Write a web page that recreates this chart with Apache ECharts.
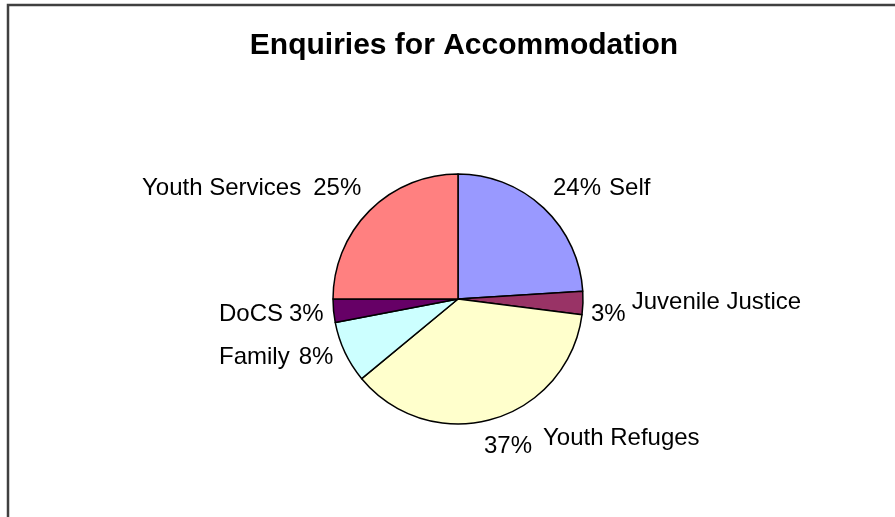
<!DOCTYPE html>
<html>
<head>
<meta charset="utf-8">
<script src="https://cdn.jsdelivr.net/npm/echarts@6/dist/echarts.min.js"></script>
<style>
  html, body { margin: 0; padding: 0; background: #fff; }
  #chart { width: 895px; height: 517px; }
</style>
</head>
<body>
<div id="chart"></div>
<script>
// Sources of accommodation enquiries (percent of total)
const categories = ['Self', 'Juvenile Justice', 'Youth Refuges', 'Family', 'DoCS', 'Youth Services'];
const percents = [24, 3, 37, 8, 3, 25];
const sliceColors = ['#9999FF', '#993366', '#FFFFCC', '#CCFFFF', '#660066', '#FF8080'];

// Label anchors: left edge x, vertical centre y, percent first or last, gap in px
const labelSpots = {
  'Self':             { x: 553, y: 188, pctFirst: true,  gap: 8 },
  'Juvenile Justice': { x: 591, y: 308, pctFirst: true,  gap: 6, shift: 'big' },
  'Youth Refuges':    { x: 484, y: 442, pctFirst: true,  gap: 11, shift: 'small' },
  'Family':           { x: 219, y: 357, pctFirst: false, gap: 9 },
  'DoCS':             { x: 219, y: 314, pctFirst: false, gap: 6 },
  'Youth Services':   { x: 142, y: 188, pctFirst: false, gap: 12 }
};

const font = 'Liberation Sans, Arial, sans-serif';
const FS = 24;
const chart = echarts.init(document.getElementById('chart'), null, { renderer: 'canvas' });

function tok(lh, va) {
  return { fontFamily: font, fontSize: FS, lineHeight: lh, verticalAlign: va, color: '#000' };
}

chart.setOption({
  backgroundColor: '#ffffff',
  animation: false,
  title: {
    text: 'Enquiries for Accommodation',
    left: 459,
    textAlign: 'center',
    top: 26,
    textStyle: { fontFamily: font, fontSize: 30, fontWeight: 'bold', color: '#000' }
  },
  graphic: [{
    type: 'rect',
    shape: { x: 8, y: 5, width: 1000, height: 1000 },
    style: { fill: 'none', stroke: '#404040', lineWidth: 2.5 },
    silent: true
  }],
  series: [{
    type: 'pie',
    center: [458, 299],
    radius: 125,
    startAngle: 90,
    clockwise: true,
    avoidLabelOverlap: false,
    itemStyle: { borderColor: '#000', borderWidth: 1.5 },
    labelLine: { show: false },
    label: {
      show: true,
      position: 'outside',
      fontFamily: font,
      fontSize: FS,
      color: '#000',
      formatter: function (p) {
        const s = labelSpots[p.name];
        const pct = p.value + '%';
        const gapTok = '{g' + s.gap + '|}';
        if (s.shift === 'big') return '{pl|' + pct + '}' + gapTok + '{nh|' + p.name + '}';
        if (s.shift === 'small') return '{ps|' + pct + '}' + gapTok + '{nt|' + p.name + '}';
        return s.pctFirst
          ? '{t|' + pct + '}' + gapTok + '{t|' + p.name + '}'
          : '{t|' + p.name + '}' + gapTok + '{t|' + pct + '}';
      },
      rich: {
        t: tok(28, 'middle'),
        pl: tok(36, 'bottom'),
        nh: tok(36, 'top'),
        ps: tok(32, 'bottom'),
        nt: tok(32, 'top'),
        g6: { width: 6 },
        g8: { width: 8 },
        g9: { width: 9 },
        g11: { width: 11 },
        g12: { width: 12 }
      }
    },
    labelLayout: function (params) {
      const s = labelSpots[categories[params.dataIndex]];
      return { x: s.x, y: s.y, align: 'left', verticalAlign: 'middle' };
    },
    data: categories.map(function (c, i) {
      return { name: c, value: percents[i], itemStyle: { color: sliceColors[i] } };
    })
  }]
});
</script>
</body>
</html>
